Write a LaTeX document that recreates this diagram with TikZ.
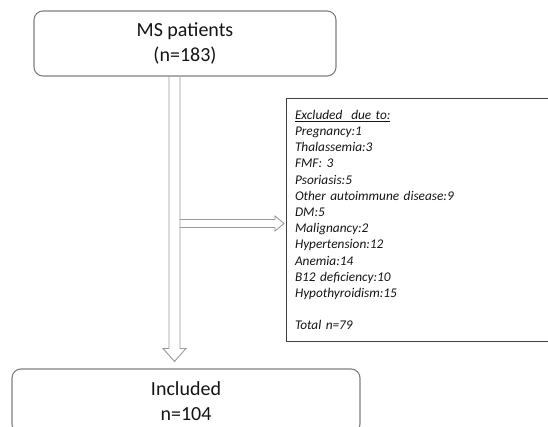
\documentclass[tikz,border=0pt]{standalone}
\usepackage{fontspec}
\setmainfont{Carlito}
\usetikzlibrary{positioning,calc}
\definecolor{boxGray}{HTML}{808080}
\definecolor{arrowGray}{HTML}{999999}
\definecolor{exclDark}{HTML}{3F3F3F}
\definecolor{txtDark}{HTML}{141414}

\begin{document}
\begin{tikzpicture}[x=1pt, y=1pt,
    stage/.style={draw=boxGray, line width=1.1pt, rounded corners=9pt, align=center,
      text=txtDark, font=\fontsize{20}{25}\selectfont},
    hollow/.style={draw=arrowGray, line width=0.9pt, line join=miter}]
  \clip (0,0) rectangle (548,426);

  \node[stage, minimum width=302pt, minimum height=65pt] (ms) at (185,382.5) {MS patients\\(n=183)};
  \node[stage, minimum width=348pt, minimum height=64pt] (incl) at (186,25) {Included\\n=104};

  \node[draw=exclDark, line width=1pt, anchor=north west, inner xsep=9pt, inner ysep=0pt,
    text width=260pt, minimum height=243pt, align=left, text=txtDark,
    font=\fontsize{13.3}{16.2}\selectfont\itshape] (excl) at (285.5,328)
    {\underline{Excluded\ \ due to:}\\
     Pregnancy:1\\
     Thalassemia:3\\
     FMF: 3\\
     Psoriasis:5\\
     Other autoimmune disease:9\\
     DM:5\\
     Malignancy:2\\
     Hypertension:12\\
     Anemia:14\\
     B12 deficiency:10\\
     Hypothyroidism:15\\[16.2pt]
     Total n=79};

  % down arrow
  \coordinate (vtop) at ([xshift=-10.5pt]ms.south);
  \coordinate (vtip) at ($(vtop |- incl.north)+(0,7)$);
  \draw[hollow] ($(vtop)+(-5.5,0)$) -- ($(vtip)+(-5.5,13)$) -- ($(vtip)+(-11.5,13)$) -- (vtip)
    -- ($(vtip)+(11.5,13)$) -- ($(vtip)+(5.5,13)$) -- ($(vtop)+(5.5,0)$);

  % side arrow
  \coordinate (htip) at ($(excl.west)+(-1.5,-3.5)$);
  \coordinate (hbase) at ($(vtop |- htip)+(5.5,0)$);
  \draw[hollow] ($(hbase)+(0,4)$) -- ($(htip)+(-9,4)$) -- ($(htip)+(-9,7.5)$) -- (htip)
    -- ($(htip)+(-9,-7.5)$) -- ($(htip)+(-9,-4)$) -- ($(hbase)+(0,-4)$);
\end{tikzpicture}
\end{document}
